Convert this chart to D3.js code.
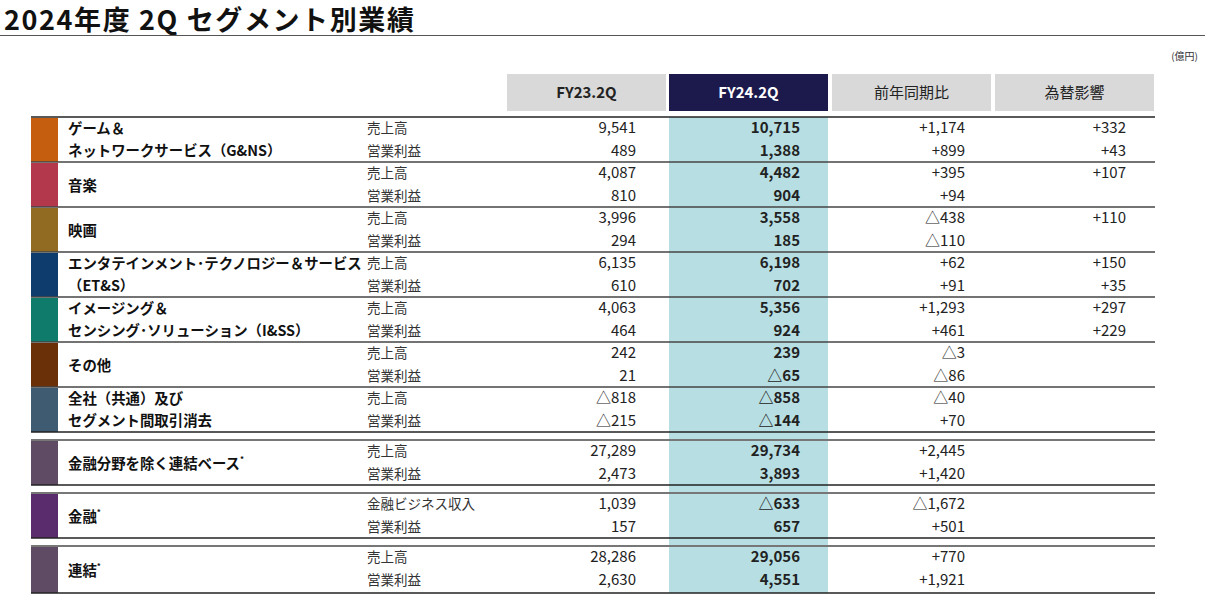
<!DOCTYPE html>
<html><head><meta charset="utf-8">
<script src="https://cdn.jsdelivr.net/npm/d3@7"></script>
<style>body{margin:0;background:#fff;font-family:"Noto Sans CJK JP","Noto Sans",sans-serif}</style>
</head><body><svg id="c" width="1205" height="607"></svg>
<script>
const title = "2024年度 2Q セグメント別業績";
const unit = "(億円)";
const headers = ["FY23.2Q","FY24.2Q","前年同期比","為替影響"];
const segments = ["ゲーム＆\nネットワークサービス（G&NS）","音楽","映画","エンタテインメント･テクノロジー＆サービス\n（ET&S）","イメージング＆\nセンシング･ソリューション（I&SS）","その他","全社（共通）及び\nセグメント間取引消去","金融分野を除く連結ベース*","金融*","連結*"];
const segColors = ["#c55f0f","#b3384c","#916b22","#0e3c6c","#0f7b6b","#6a3008","#3f5b72","#5f4c64","#5a2b6d","#5f4c64"];
const subLabels = [["売上高","営業利益"],["売上高","営業利益"],["売上高","営業利益"],["売上高","営業利益"],["売上高","営業利益"],["売上高","営業利益"],["売上高","営業利益"],["売上高","営業利益"],["金融ビジネス収入","営業利益"],["売上高","営業利益"]];
const fy23 = [["9,541","489"],["4,087","810"],["3,996","294"],["6,135","610"],["4,063","464"],["242","21"],["△818","△215"],["27,289","2,473"],["1,039","157"],["28,286","2,630"]];
const fy24 = [["10,715","1,388"],["4,482","904"],["3,558","185"],["6,198","702"],["5,356","924"],["239","△65"],["△858","△144"],["29,734","3,893"],["△633","657"],["29,056","4,551"]];
const yoy = [["+1,174","+899"],["+395","+94"],["△438","△110"],["+62","+91"],["+1,293","+461"],["△3","△86"],["△40","+70"],["+2,445","+1,420"],["△1,672","+501"],["+770","+1,921"]];
const fx = [["+332","+43"],["+107",""],["+110",""],["+150","+35"],["+297","+229"],["",""],["",""],["",""],["",""],["",""]];

const svg = d3.select("#c");
svg.append("text").attr("x",4).attr("y",30).attr("font-size",27).attr("letter-spacing",1.6).attr("font-weight","bold").attr("fill","#111").text(title);
svg.append("line").attr("x1",0).attr("x2",1205).attr("y1",35.5).attr("y2",35.5).attr("stroke","#555").attr("stroke-width",1);
svg.append("text").attr("x",1198).attr("y",60).attr("text-anchor","end").attr("font-size",10).attr("fill","#333").text(unit);

const colX = [507,669,832,995], colW = 159, rightX=[636,800,965,1126];
headers.forEach((h,i)=>{
  svg.append("rect").attr("x",colX[i]).attr("y",74).attr("width",colW).attr("height",37).attr("fill",i==1?"#1c1a4d":"#d9d9d9");
  svg.append("text").attr("x",colX[i]+colW/2).attr("y",98).attr("text-anchor","middle").attr("font-size",15)
    .attr("font-weight",i<2?"bold":"normal").attr("fill",i==1?"#fff":"#222").text(h);
});
const tops = [117,162,207,252,297,342,387,440,493,546];
const bh = [45,45,45,45,45,45,45,45,45,47];
svg.append("rect").attr("x",669).attr("y",117).attr("width",colW).attr("height",476).attr("fill","#b7dfe3");
const cols=[fy23,fy24,yoy,fx];
segments.forEach((s,i)=>{
  const t=tops[i], h=bh[i];
  const gapTop = i>=7;
  svg.append("line").attr("x1",31).attr("x2",1155).attr("y1",t).attr("y2",t).attr("stroke",gapTop?"#777":(i==0?"#222":"#444")).attr("stroke-width",gapTop?2:1.3);
  svg.append("rect").attr("x",31).attr("y",t+1).attr("width",27).attr("height",h-1).attr("fill",segColors[i]);
  const lines=s.split("\n");
  lines.forEach((l,k)=>{
    const y = lines.length==1? t+h/2+6 : t+17+k*22;
    const txt=svg.append("text").attr("x",68).attr("y",y).attr("font-size",14.4).attr("font-weight","bold").attr("fill","#111");
    if(l.endsWith("*")){txt.text(l.slice(0,-1));txt.append("tspan").attr("font-size",8).attr("dy",-7).text("*");}
    else txt.text(l);
  });
  [0,1].forEach(k=>{
    const y=t+16+k*22.5;
    svg.append("text").attr("x",367).attr("y",y).attr("font-size",13.5).attr("fill","#333").text(subLabels[i][k]);
    cols.forEach((c,j)=>{
      svg.append("text").attr("x",rightX[j]).attr("y",y).attr("text-anchor","end").attr("font-size",15)
        .attr("font-weight",j==1?"bold":"normal").attr("fill","#222").text(c[i][k]);
    });
  });
  if(i>=6) svg.append("line").attr("x1",31).attr("x2",1155).attr("y1",t+h).attr("y2",t+h).attr("stroke","#222").attr("stroke-width",1.3);
});
</script></body></html>
